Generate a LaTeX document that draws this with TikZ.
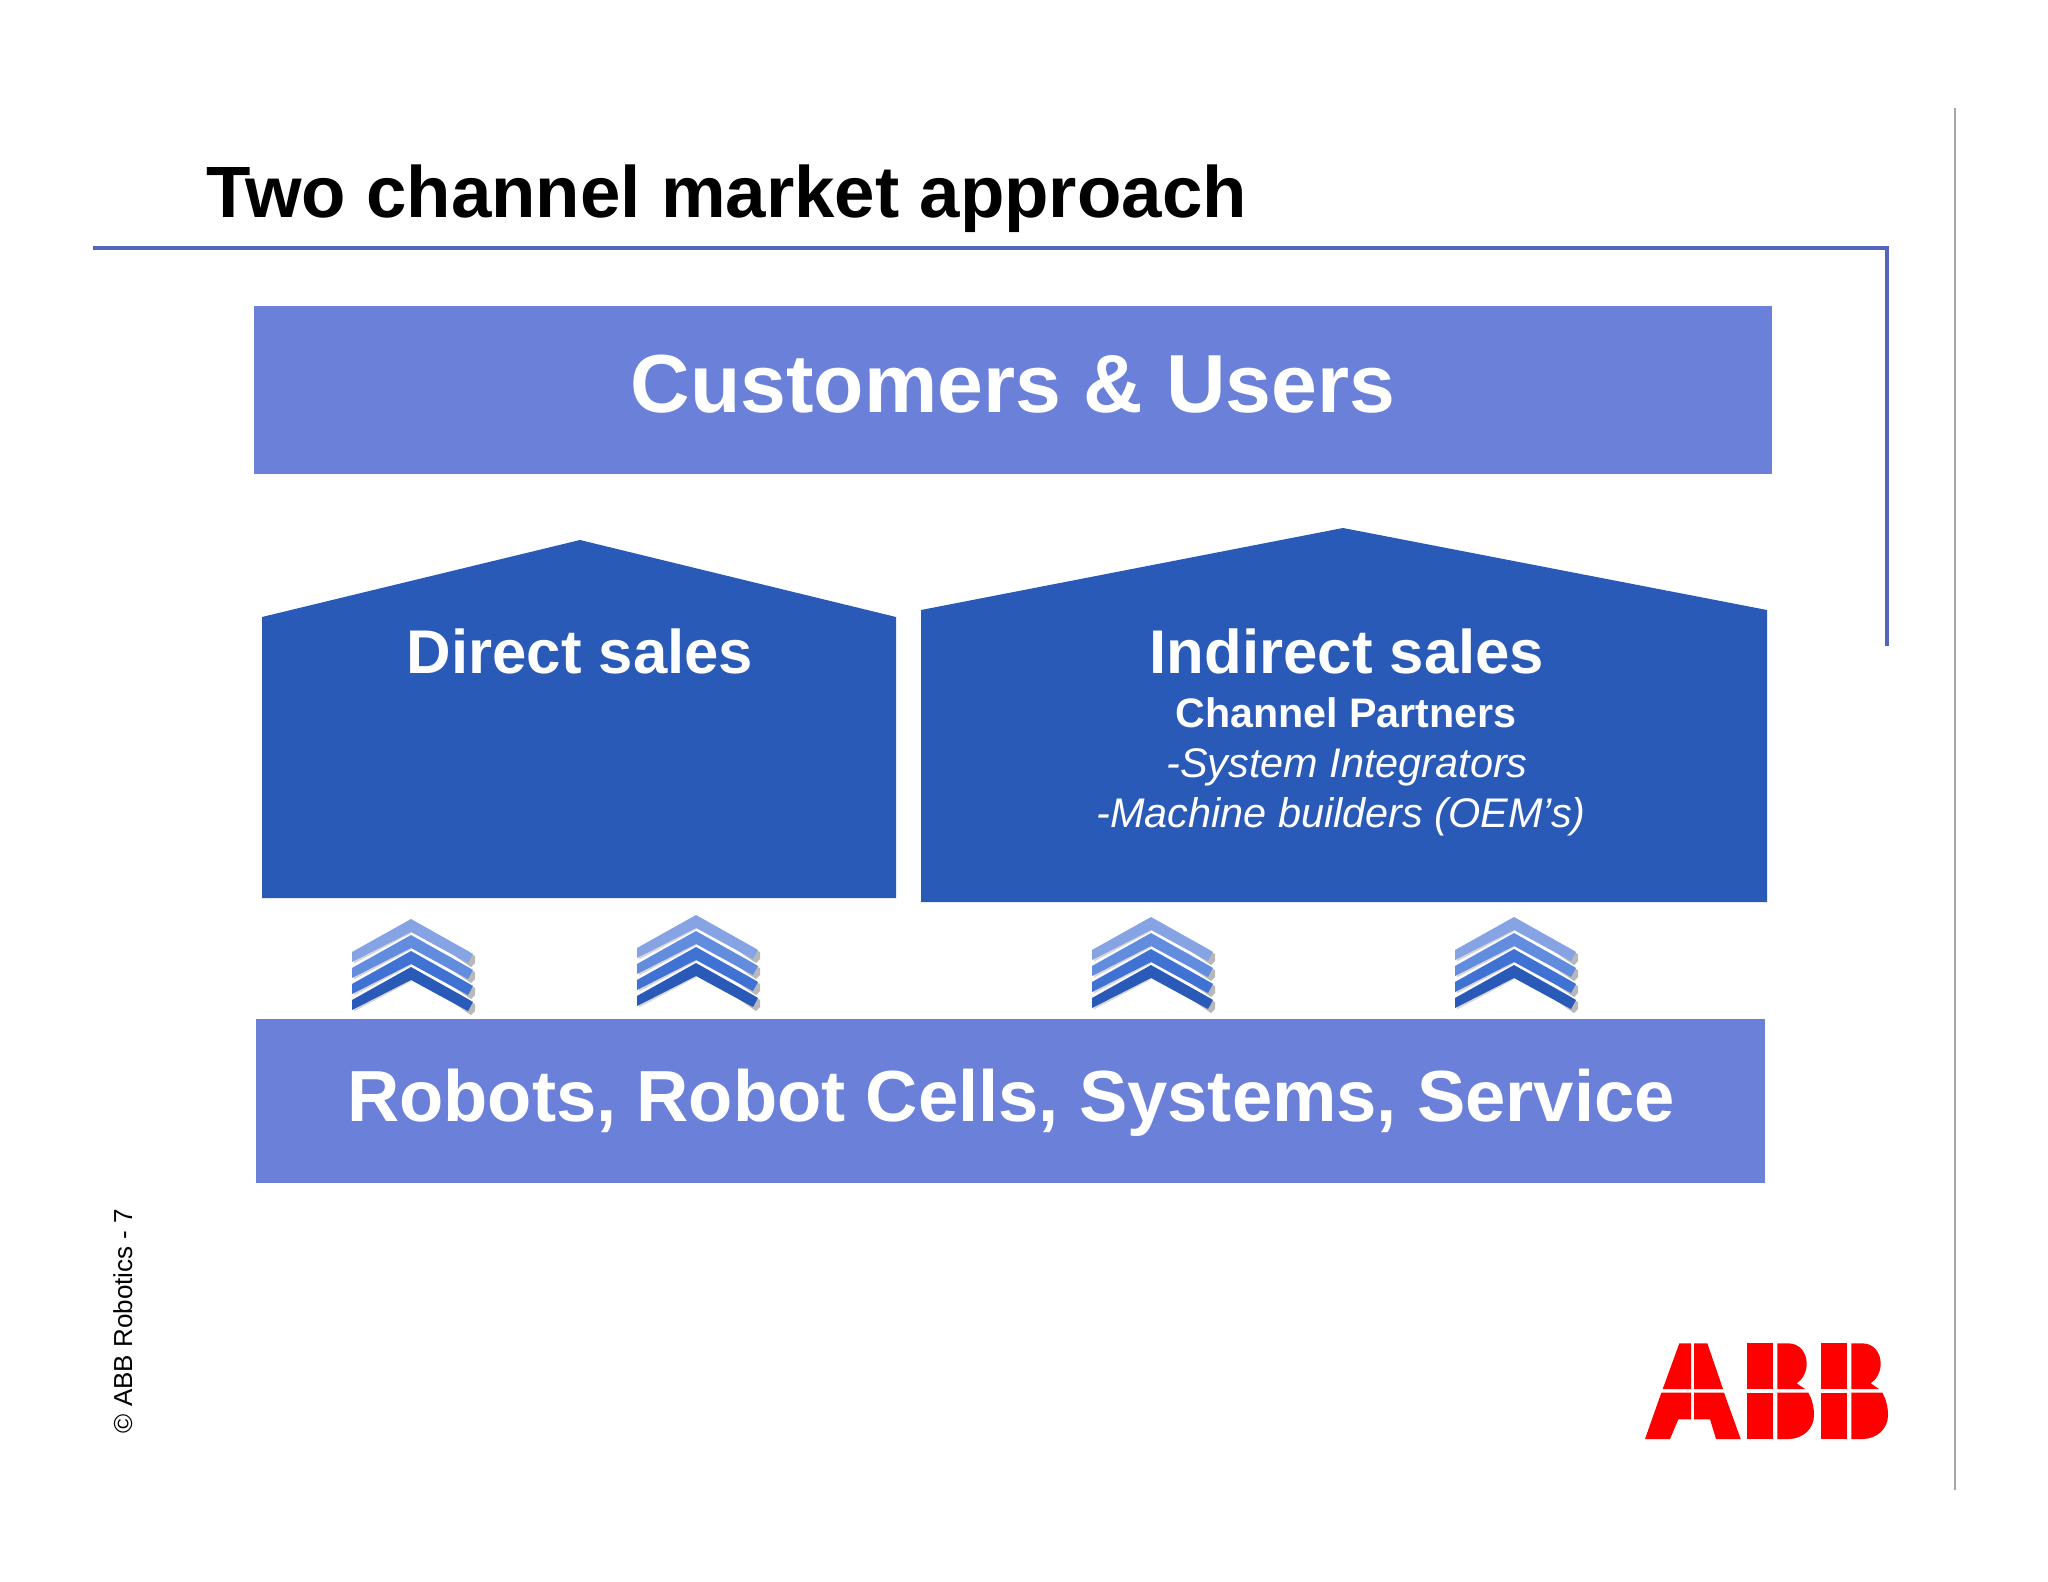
\documentclass[tikz,border=0pt]{standalone}
\usepackage{fontspec}
\setmainfont{Liberation Sans}
\definecolor{rule}{HTML}{5565BD}
\definecolor{light}{HTML}{6B80D8}
\definecolor{dark}{HTML}{2A5AB8}
\definecolor{chevA}{HTML}{86A3E3}
\definecolor{chevB}{HTML}{628DDF}
\definecolor{chevC}{HTML}{3F72D3}
\definecolor{chevD}{HTML}{2A5AB8}
\definecolor{abbred}{HTML}{FF0000}
\tikzset{
  txt/.style={inner sep=0pt,outer sep=0pt,anchor=base,white},
  hdr/.style={txt,font=\bfseries\fontsize{#1}{#1}\selectfont},
  lightbar/.style={fill=light,draw=none},
  house/.style={fill=dark,draw=none},
  chevshadow/.style={fill=black!28,draw=none},
  chevshade/.style={fill=black!16,draw=none},
  logo/.style={fill=abbred,draw=none}
}
\newcommand{\chevstack}[2]{%
  \foreach \off/\col in {0/chevA,16/chevB,32/chevC,48/chevD}{
    \begin{scope}[shift={(#1,#2+\off)}]
      \fill[chevshade] (-57,37) -- (0,7) -- (0,14.3) -- (-57,44.5) -- cycle;
      \fill[chevshadow] (0,7) -- (64,37) -- (64,44) -- (60,48) -- cycle;
      \fill[\col] (-59,33) -- (0,0) -- (57,32) -- (62,35) -- (57,44) -- (0,13) -- (-59,43) -- cycle;
    \end{scope}
  }%
}
\begin{document}
\begin{tikzpicture}[x=0.5pt,y=-0.5pt]
\useasboundingbox (0,0) rectangle (2048,1582);
% title and rules
\node[txt,black,anchor=base west,font=\bfseries\fontsize{36.35}{36.35}\selectfont] (title) at (206,218) {Two channel market approach};
\coordinate (ruleL) at (93,248);
\coordinate (ruleC) at (1887,248);
\coordinate (ruleE) at (1887,646);
\draw[rule,line width=1.6pt] (ruleL) -- (ruleC) -- (ruleE);
\coordinate (grayT) at (1955,108);
\coordinate (grayB) at (1955,1490);
\draw[black!35,line width=0.8pt] (grayT) -- (grayB);
% bars
\fill[lightbar] (254,306) rectangle (1772,474);
\node[hdr=41.2] (customers) at (1013,413) {Customers \& Users};
\fill[house] (262,617) -- (580,540) -- (896,617) -- (896,898) -- (262,898) -- cycle;
\fill[house] (921,610) -- (1343,528) -- (1767,610) -- (1767,902) -- (921,902) -- cycle;
\node[hdr=30.85] (direct) at (580,673) {Direct sales};
\node[hdr=30.85] (indirect) at (1347,673) {Indirect sales};
\node[hdr=20.6] (channel) at (1346,727) {Channel Partners};
\node[txt,font=\itshape\fontsize{20.7}{20.7}\selectfont] (sys) at (1347,777) {-System Integrators};
\node[txt,font=\itshape\fontsize{20.7}{20.7}\selectfont] (mach) at (1341,827) {-Machine builders (OEM’s)};
% chevrons
\chevstack{411}{919}
\chevstack{696}{915}
\chevstack{1151}{917}
\chevstack{1514}{917}
% bottom bar
\fill[lightbar] (256,1019) rectangle (1765,1183);
\node[hdr=36.2] (robots) at (1011,1121) {Robots, Robot Cells, Systems, Service};
% footer
\node[txt,black,rotate=90,anchor=base,font=\fontsize{13}{13}\selectfont] (foot) at (132,1321) {© ABB Robotics - 7};
% ABB logo
\begin{scope}[shift={(1620,1320)},x=0.16667pt,y=-0.16667pt]
  % A
  \fill[logo] (178,70) -- (213,70) -- (213,207) -- (128,207) -- cycle;
  \fill[logo] (222,70) -- (262,70) -- (309,207) -- (222,207) -- cycle;
  \fill[logo] (124,218) -- (213,218) -- (213,298) -- (175,298) -- (150,357) -- (75,357) -- cycle;
  \fill[logo] (222,218) -- (312,218) -- (362,357) -- (288,357) -- (270,298) -- (222,298) -- cycle;
  % B B
  \foreach \dx in {0,222}{
    \begin{scope}[shift={(\dx,0)}]
      \fill[logo] (380,70) rectangle (460,207);
      \fill[logo] (380,218) rectangle (460,357);
      \fill[logo] (472,70) -- (505,70) .. controls (540,70) and (560,100) .. (560,130) .. controls (560,160) and (545,180) .. (530,190) -- (555,207) -- (472,207) -- cycle;
      \fill[logo] (472,218) -- (565,218) .. controls (575,235) and (582,260) .. (582,285) .. controls (582,325) and (550,357) .. (505,357) -- (472,357) -- cycle;
    \end{scope}
  }
\end{scope}
\end{tikzpicture}
\end{document}
